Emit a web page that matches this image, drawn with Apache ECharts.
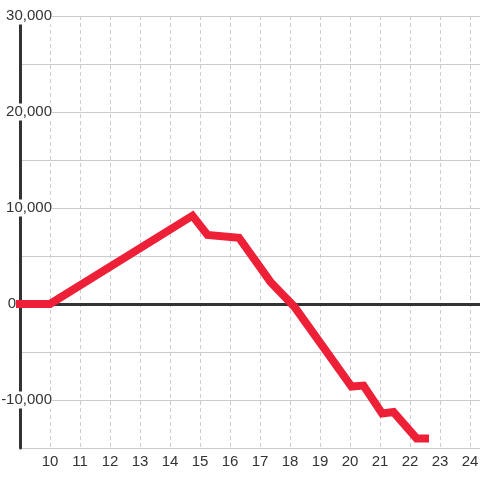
<!DOCTYPE html>
<html>
<head>
<meta charset="utf-8">
<script src="https://cdn.jsdelivr.net/npm/echarts@6/dist/echarts.min.js"></script>
<style>html,body{margin:0;padding:0;background:#fff}#c{width:480px;height:480px}</style>
</head>
<body>
<div id="c"></div>
<script>
var xValues = [9, 10, 14.75, 15.25, 16.3, 17.35, 18.15, 20.05, 20.45, 21.07, 21.45, 22.22, 22.5];
var yValues = [0, 0, 9200, 7200, 6900, 2300, -300, -8600, -8500, -11400, -11250, -14000, -14000];
var xLabelValues = [10, 11, 12, 13, 14, 15, 16, 17, 18, 19, 20, 21, 22, 23, 24];
var yLabelValues = [-10000, 0, 10000, 20000, 30000];

var chart = echarts.init(document.getElementById('c'), null, {renderer: 'canvas'});
var font = "'Liberation Sans', Arial, Helvetica, sans-serif";
var points = xValues.map(function (x, i) { return [x, yValues[i]]; });

chart.setOption({
  animation: false,
  backgroundColor: '#fff',
  grid: {left: 20, right: -20, top: 16, bottom: 32, containLabel: false, outerBoundsMode: 'none'},
  xAxis: {
    type: 'value',
    min: 9,
    max: 25,
    interval: 1,
    axisLine: {show: false},
    axisTick: {show: false},
    splitLine: {show: true, lineStyle: {color: '#cccccc', type: [4, 3], width: 1}},
    axisLabel: {
      color: '#333', fontSize: 15, fontFamily: font, margin: 6,
      showMinLabel: false, showMaxLabel: false,
      formatter: function (v) { return xLabelValues.indexOf(v) < 0 ? '' : String(v); }
    }
  },
  yAxis: {
    type: 'value',
    min: -15000,
    max: 30000,
    interval: 5000,
    axisLine: {show: true, onZero: false, lineStyle: {color: '#333', width: 3}},
    axisTick: {show: false},
    splitLine: {show: true, lineStyle: {color: '#cccccc', width: 1}},
    axisLabel: {
      margin: -32,
      align: 'right',
      color: '#333', fontSize: 15, fontFamily: font,
      formatter: function (v) {
        if (yLabelValues.indexOf(v) < 0) return '';
        if (v === 0) return '{z|0}';
        return '{b|' + v.toLocaleString('en-US') + '}';
      },
      rich: {
        b: {backgroundColor: '#fff', color: '#333', fontSize: 15, fontFamily: font, padding: [1, 0, 1, 2]},
        z: {color: '#333', fontSize: 15, fontFamily: font, padding: [0, 36, 0, 0]}
      }
    }
  },
  series: [
    {
      type: 'line',
      data: [],
      z: 1,
      silent: true,
      markLine: {
        silent: true,
        symbol: 'none',
        label: {show: false},
        lineStyle: {color: '#333', width: 3, type: 'solid'},
        data: [{yAxis: 0}]
      }
    },
    {
      type: 'line',
      data: points,
      z: 5,
      clip: false,
      showSymbol: false,
      symbol: 'none',
      lineStyle: {color: '#ee2038', width: 8, cap: 'square', join: 'miter'}
    }
  ]
});
</script>
</body>
</html>
